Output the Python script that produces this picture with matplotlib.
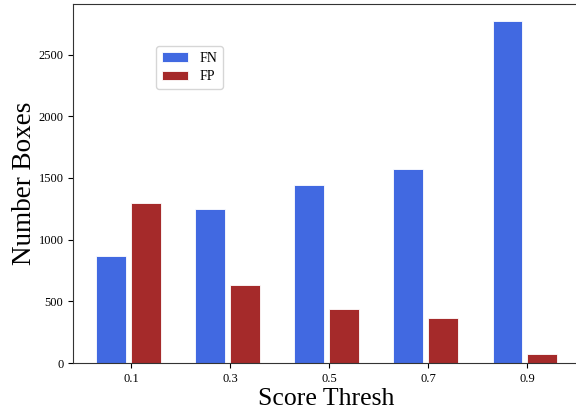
import numpy as np
from matplotlib import pyplot as plt

thresholds = [0.1, 0.3, 0.5, 0.7, 0.9]
tick_labels = ["0.1", "0.3", "0.5", "0.7", "0.9"]
fn_counts = [870, 1250, 1440, 1575, 2770]
fp_counts = [1300, 635, 440, 365, 75]


def main():
    plt.rcParams["font.family"] = ["Liberation Serif", "DejaVu Serif"]
    fig = plt.figure(figsize=(5.76, 4.13), dpi=100)
    # right edge of the axes runs just past the figure, as in the reference crop
    ax = fig.add_axes([0.127, 0.121, 0.88, 0.869])

    x = np.array(thresholds)
    width = 0.06
    ax.bar(x - 0.07, fn_counts, width=width, align="edge", color="royalblue",
           edgecolor="white", linewidth=0.6, label="FN")
    ax.bar(x, fp_counts, width=width, align="edge", color="brown",
           edgecolor="white", linewidth=0.6, label="FP")

    ax.set_xticks(x)
    ax.set_xticklabels(tick_labels)
    ax.tick_params(labelsize=9)
    ax.set_xlabel("Score Thresh", fontsize=18.5, labelpad=2)
    ax.set_ylabel("Number Boxes", fontsize=19.5, labelpad=1)
    for spine in ax.spines.values():
        spine.set_color("#333333")

    ax.legend(loc="upper left", bbox_to_anchor=(0.164, 0.883), borderaxespad=0,
              fontsize=10, handlelength=1.9, labelspacing=0.4)

    fig.savefig("out.png", dpi=100)


if __name__ == "__main__":
    main()
